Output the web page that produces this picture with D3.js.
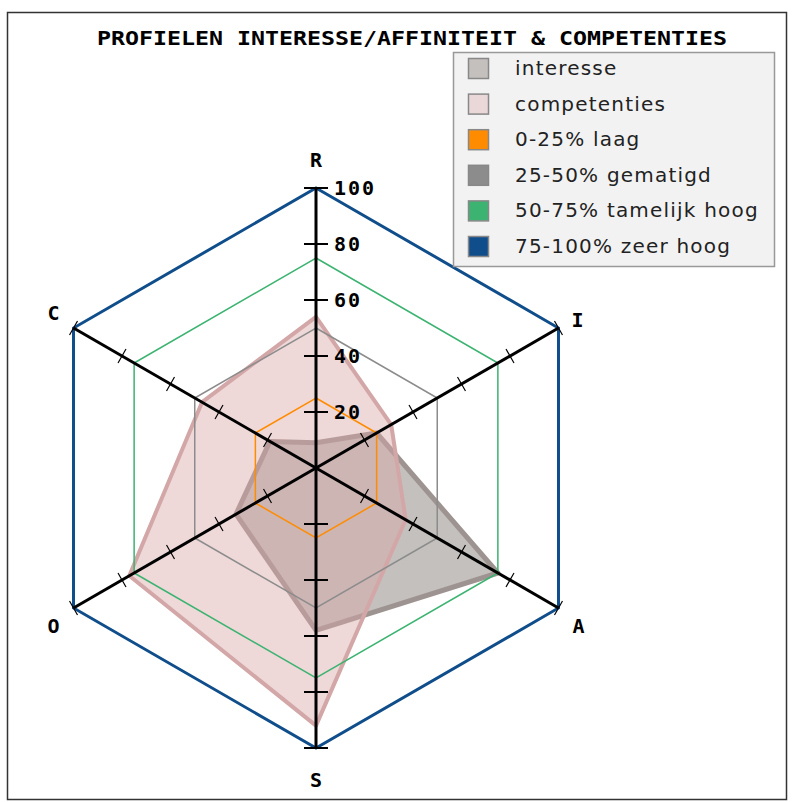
<!DOCTYPE html>
<html>
<head>
<meta charset="utf-8">
<script src="https://cdn.jsdelivr.net/npm/d3@7.9.0/dist/d3.min.js"></script>
<style>
  body { margin: 0; background: #fff; }
  svg { display: block; }
</style>
</head>
<body>
<svg width="794" height="802"></svg>
<script>
// RIASEC axes, clockwise from the top
const axes = ["R", "I", "A", "S", "O", "C"];
const interesse = [9, 25, 75, 58, 33, 19];
const competenties = [54, 31, 37, 92, 77, 47];
const tickValues = [20, 40, 60, 80, 100];

// reference rings
const bands = [
  { label: "0-25% laag", value: 25, color: "#ff8c00" },
  { label: "25-50% gematigd", value: 50, color: "#8c8c8c" },
  { label: "50-75% tamelijk hoog", value: 75, color: "#3cb371" },
  { label: "75-100% zeer hoog", value: 100, color: "#104e8b" }
];
const seriesNames = ["interesse", "competenties"];

const svg = d3.select("svg");
const cx = 316, cy = 468;
const r = d3.scaleLinear().domain([0, 100]).range([0, 280]);
const angle = i => i * Math.PI / 3;
const pt = (i, v) => [cx + r(v) * Math.sin(angle(i)), cy - r(v) * Math.cos(angle(i))];

// frame
svg.append("rect")
  .attr("x", 7.5).attr("y", 12.5).attr("width", 779).attr("height", 787)
  .attr("fill", "#fff").attr("stroke", "#333").attr("stroke-width", 1.5);

svg.append("text")
  .attr("x", 412).attr("y", 45)
  .attr("text-anchor", "middle")
  .attr("font-family", "DejaVu Sans Mono").attr("font-weight", "bold")
  .attr("font-size", 20)
  .attr("textLength", 630).attr("lengthAdjust", "spacingAndGlyphs")
  .text("PROFIELEN INTERESSE/AFFINITEIT & COMPETENTIES");

const radial = d3.lineRadial()
  .angle((d, i) => angle(i))
  .radius(d => r(d))
  .curve(d3.curveLinearClosed);

const chart = svg.append("g").attr("transform", `translate(${cx},${cy})`);

// data polygons
chart.append("path")
  .datum(interesse)
  .attr("d", radial)
  .attr("fill", "#c4c0bd")
  .attr("stroke", "#9d9390").attr("stroke-width", 5)
  .attr("stroke-linejoin", "round");

chart.append("path")
  .datum(competenties)
  .attr("d", radial)
  .attr("fill", "#d9a9a9").attr("fill-opacity", 0.45)
  .attr("stroke", "#d3a7a7").attr("stroke-width", 4)
  .attr("stroke-linejoin", "round");

// rings
bands.forEach(b => {
  chart.append("path")
    .datum(axes.map(() => b.value))
    .attr("d", radial)
    .attr("fill", "none")
    .attr("stroke", b.color)
    .attr("stroke-width", b.value === 100 ? 3 : 1.5);
});

// label offsets from each axis end
const labelOffset = [[0, -28], [19, -8], [20, 18], [0, 32], [-20, 18], [-20, -15]];

// axes
axes.forEach((a, i) => {
  const [x2, y2] = pt(i, 100);
  svg.append("line")
    .attr("x1", cx).attr("y1", cy).attr("x2", x2).attr("y2", y2)
    .attr("stroke", "#000").attr("stroke-width", 3);

  const vertical = i === 0 || i === 3;
  tickValues.forEach(v => {
    const [tx, ty] = pt(i, v);
    if (vertical) {
      svg.append("line")
        .attr("x1", tx - 12).attr("x2", tx + 12).attr("y1", ty).attr("y2", ty)
        .attr("stroke", "#000").attr("stroke-width", 2);
    } else {
      const nx = Math.cos(angle(i)) * 8, ny = Math.sin(angle(i)) * 8;
      svg.append("line")
        .attr("x1", tx - nx).attr("y1", ty - ny).attr("x2", tx + nx).attr("y2", ty + ny)
        .attr("stroke", "#000").attr("stroke-width", 1.2);
    }
  });

  svg.append("text")
    .attr("x", x2 + labelOffset[i][0])
    .attr("y", y2 + labelOffset[i][1])
    .attr("text-anchor", "middle")
    .attr("dominant-baseline", "central")
    .attr("font-family", "DejaVu Sans Mono").attr("font-weight", "bold")
    .attr("font-size", 20)
    .text(a);
});

// tick labels on the R axis
tickValues.forEach(v => {
  const [tx, ty] = pt(0, v);
  svg.append("text")
    .attr("x", tx + 18).attr("y", ty + 7)
    .attr("font-family", "DejaVu Sans Mono").attr("font-weight", "bold")
    .attr("font-size", 20)
    .attr("letter-spacing", 2)
    .text(v);
});

// legend
const legendItems = [
  { label: seriesNames[0], color: "#c4c0bd" },
  { label: seriesNames[1], color: "#ead8d8" }
].concat(bands);

const legend = svg.append("g").attr("transform", "translate(453,52)");
legend.append("rect")
  .attr("x", 0.5).attr("y", 0.5).attr("width", 321).attr("height", 214)
  .attr("fill", "#f2f2f2").attr("stroke", "#999").attr("stroke-width", 1.5);

legendItems.forEach((d, i) => {
  const y = 16 + i * 35.6;
  legend.append("rect")
    .attr("x", 15.5).attr("y", y - 9.5).attr("width", 20).attr("height", 20)
    .attr("fill", d.color).attr("stroke", "#888").attr("stroke-width", 1.5);
  legend.append("text")
    .attr("x", 62).attr("y", y + 7)
    .attr("font-family", "DejaVu Sans").attr("font-size", 20)
    .attr("letter-spacing", 1.2)
    .attr("fill", "#222")
    .text(d.label);
});
</script>
</body>
</html>
